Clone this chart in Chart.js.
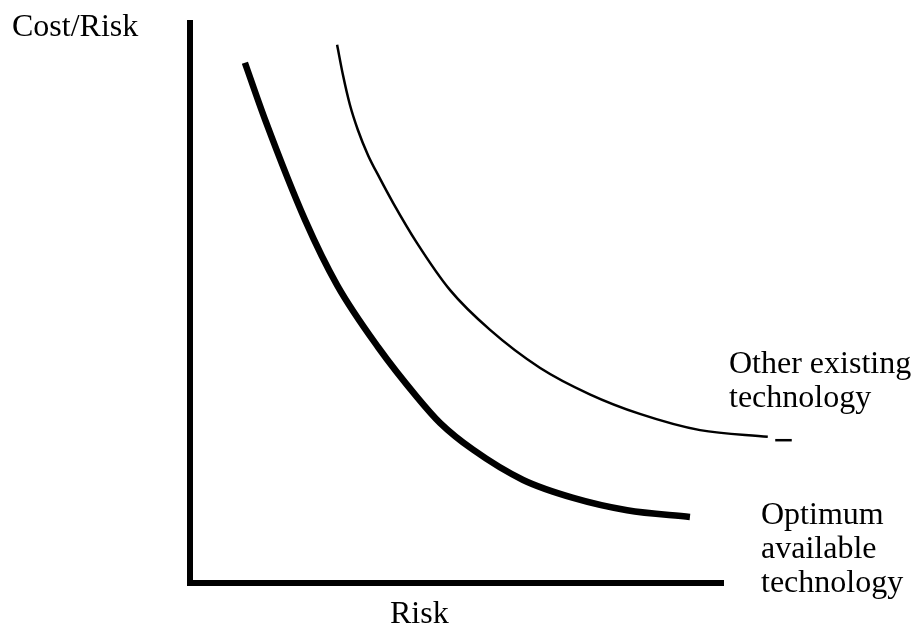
<!DOCTYPE html>
<html>
<head>
<meta charset="utf-8">
<script src="https://cdn.jsdelivr.net/npm/chart.js@4/dist/chart.umd.min.js"></script>
<style>
  html, body { margin: 0; padding: 0; background: #ffffff; }
  #wrap { width: 921px; height: 636px; }
</style>
</head>
<body>
<div id="wrap"><canvas id="c" width="921" height="636"></canvas></div>
<script>
// Optimum available technology (thick curve)
const optimumX = [10.3, 14.1, 21.6, 27.6, 35.3, 42.6, 46.9, 53.1, 62.5, 71.9, 82.0, 93.8];
const optimumY = [92.9, 82.7, 64.8, 53.2, 42.1, 33.2, 28.6, 23.8, 18.4, 15.2, 13.0, 11.8];
// Other existing technology (thin curve)
const otherX = [27.6, 28.7, 30.0, 31.5, 33.4, 35.6, 38.1, 42.6, 48.8, 56.3, 65.7, 75.0, 84.4, 95.7, 108.4];
const otherY = [96.1, 90.7, 85.4, 80.9, 76.4, 72.3, 67.9, 60.7, 52.3, 45.2, 38.4, 33.7, 30.2, 27.3, 26.1];
// short detached dash at the end of the thin curve
const otherTailX = [109.8, 112.9];
const otherTailY = [25.5, 25.5];

const axisTitleX = 'Risk';
const axisTitleY = 'Cost/Risk';
const labelOther = ['Other existing', 'technology'];
const labelOptimum = ['Optimum', 'available', 'technology'];

const toPoints = (xs, ys) => xs.map((x, i) => ({ x: x, y: ys[i] }));

const textPlugin = {
  id: 'textLabels',
  afterDraw(chart) {
    const ctx = chart.ctx;
    ctx.save();
    ctx.fillStyle = '#000';
    ctx.font = '32px "Liberation Serif"';
    ctx.textBaseline = 'alphabetic';
    ctx.textAlign = 'left';
    ctx.fillText(axisTitleY, 12, 36);
    ctx.fillText(axisTitleX, 390, 623);
    labelOther.forEach((t, i) => ctx.fillText(t, 729, 373 + i * 34));
    labelOptimum.forEach((t, i) => ctx.fillText(t, 761, 524 + i * 34));
    ctx.restore();
  }
};

new Chart(document.getElementById('c'), {
  type: 'line',
  data: {
    datasets: [
      {
        label: labelOptimum.join(' '),
        data: toPoints(optimumX, optimumY),
        borderColor: '#000',
        borderWidth: 6.5,
        pointRadius: 0,
        cubicInterpolationMode: 'monotone',
        fill: false
      },
      {
        label: labelOther.join(' '),
        data: toPoints(otherX, otherY),
        borderColor: '#000',
        borderWidth: 2.5,
        pointRadius: 0,
        cubicInterpolationMode: 'monotone',
        clip: false,
        fill: false
      },
      {
        label: labelOther.join(' ') + ' (end)',
        data: toPoints(otherTailX, otherTailY),
        borderColor: '#000',
        borderWidth: 2.5,
        pointRadius: 0,
        tension: 0,
        clip: false,
        fill: false
      }
    ]
  },
  options: {
    responsive: false,
    animation: false,
    layout: { padding: { left: 190, top: 23, right: 198, bottom: 53 } },
    plugins: { legend: { display: false }, tooltip: { enabled: false }, title: { display: false } },
    scales: {
      x: {
        type: 'linear', min: 0, max: 100,
        ticks: { display: false },
        grid: { display: false, drawTicks: false },
        border: { display: true, color: '#000', width: 6 }
      },
      y: {
        type: 'linear', min: 0, max: 100,
        ticks: { display: false },
        grid: { display: false, drawTicks: false },
        border: { display: true, color: '#000', width: 6 }
      }
    }
  },
  plugins: [textPlugin]
});
</script>
</body>
</html>
